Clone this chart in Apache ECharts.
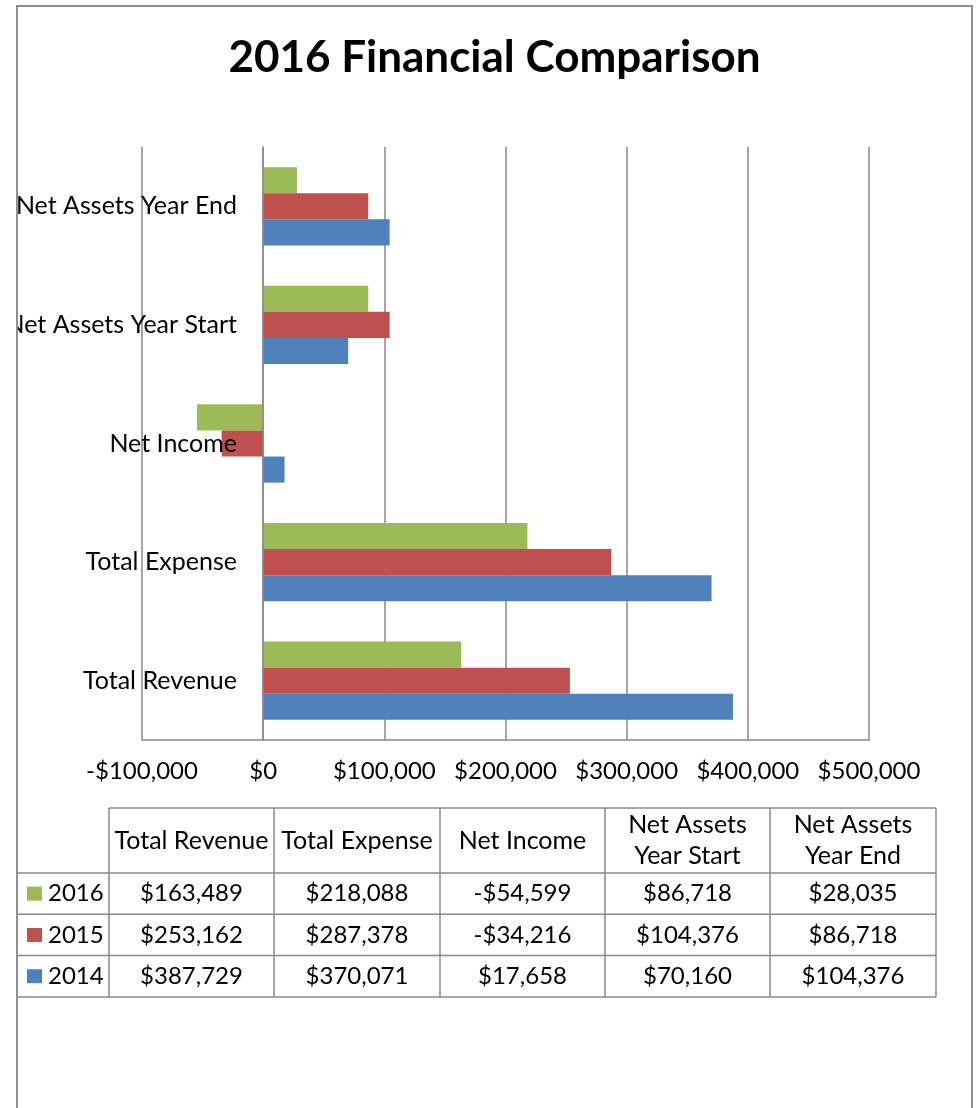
<!DOCTYPE html>
<html>
<head>
<meta charset="utf-8">
<script src="https://cdn.jsdelivr.net/npm/echarts@6/dist/echarts.min.js"></script>
<style>
html,body{margin:0;padding:0;background:#fff;}
#chart{width:976px;height:1108px;}
</style>
</head>
<body>
<div id="chart"></div>
<script>
// ---- data ----
var titleText = '2016 Financial Comparison';
var categories = ['Total Revenue', 'Total Expense', 'Net Income', 'Net Assets Year Start', 'Net Assets Year End'];
var tableHeaders = ['Total Revenue', 'Total Expense', 'Net Income', 'Net Assets\nYear Start', 'Net Assets\nYear End'];
var years = ['2014', '2015', '2016'];
var values2014 = [387729, 370071, 17658, 70160, 104376];
var values2015 = [253162, 287378, -34216, 104376, 86718];
var values2016 = [163489, 218088, -54599, 86718, 28035];
var colors = ['#4F81BD', '#C0504D', '#9BBB59'];
var axisMin = -100000, axisMax = 500000, axisStep = 100000;

// ---- helpers ----
var FONT = 'Lato';
var WORD = 25, NUM = 24;
var GRAY = '#898989';
function money(v) {
  var s = Math.abs(v).toString().replace(/\B(?=(\d{3})+(?!\d))/g, ',');
  return (v < 0 ? '-$' : '$') + s;
}

var seriesValues = [values2014, values2015, values2016];

// ---- table graphics ----
var colEdges = [109, 274, 440, 605, 770, 936];
var leftEdge = 17;
var headTop = 808, headBottom = 873, rowH = 41.3;
var g = [];
// white mask left of the border (text clipped at chart edge, as in reference)
g.push({type: 'rect', shape: {x: 0, y: 0, width: 17, height: 1108}, style: {fill: '#fff'}, z: 100, silent: true});
// outer border
g.push({type: 'rect', shape: {x: 17, y: 6, width: 955, height: 1200}, style: {fill: 'none', stroke: '#8f8f8f', lineWidth: 2}, z: 101, silent: true});
// title
g.push({type: 'text', x: 494.5, y: 58, style: {text: titleText, font: 'bold 44px ' + FONT, fill: '#000', textAlign: 'center', textVerticalAlign: 'middle'}});
// header top line
g.push({type: 'line', shape: {x1: colEdges[0], y1: headTop, x2: colEdges[colEdges.length - 1], y2: headTop}, style: {stroke: GRAY, lineWidth: 1.5}});
// row lines
for (var r = 0; r <= years.length; r++) {
  var yy = headBottom + r * rowH;
  g.push({type: 'line', shape: {x1: leftEdge, y1: yy, x2: colEdges[colEdges.length - 1], y2: yy}, style: {stroke: GRAY, lineWidth: 1.5}});
}
var tableBottom = headBottom + years.length * rowH;
// vertical lines
colEdges.forEach(function (x) {
  g.push({type: 'line', shape: {x1: x, y1: headTop, x2: x, y2: tableBottom}, style: {stroke: GRAY, lineWidth: 1.5}});
});
// header texts
tableHeaders.forEach(function (h, i) {
  g.push({type: 'text', x: (colEdges[i] + colEdges[i + 1]) / 2, y: (headTop + headBottom) / 2,
    style: {text: h, font: WORD + 'px ' + FONT, fill: '#000', textAlign: 'center', textVerticalAlign: 'middle', lineHeight: 31}});
});
// rows: 2016, 2015, 2014 top to bottom
for (var k = 0; k < years.length; k++) {
  var si = years.length - 1 - k;
  var cy = headBottom + k * rowH + rowH / 2;
  g.push({type: 'rect', shape: {x: 27, y: cy - 7, width: 15, height: 14}, style: {fill: colors[si]}});
  g.push({type: 'text', x: 48, y: cy, style: {text: years[si], font: NUM + 'px ' + FONT, fill: '#000', textAlign: 'left', textVerticalAlign: 'middle'}});
  seriesValues[si].forEach(function (v, c) {
    g.push({type: 'text', x: (colEdges[c] + colEdges[c + 1]) / 2, y: cy,
      style: {text: money(v), font: NUM + 'px ' + FONT, fill: '#000', textAlign: 'center', textVerticalAlign: 'middle'}});
  });
}

// series drawn top-to-bottom within a band: 2016, 2015, 2014
var order = [2, 1, 0];

var chart = echarts.init(document.getElementById('chart'), null, {renderer: 'canvas'});
chart.setOption({
  backgroundColor: '#fff',
  animation: false,
  textStyle: {fontFamily: FONT},
  grid: {left: 142, right: 107, top: 147, bottom: 368, containLabel: false, outerBoundsMode: 'none'},
  xAxis: {
    type: 'value', min: axisMin, max: axisMax, interval: axisStep,
    axisLine: {show: true, lineStyle: {color: GRAY, width: 1.5}},
    axisTick: {show: false},
    splitLine: {show: true, lineStyle: {color: GRAY, width: 1.5}},
    axisLabel: {fontSize: NUM, color: '#000', margin: 19, fontFamily: FONT, formatter: function (v) { return money(v); }}
  },
  yAxis: {
    type: 'category', data: categories, z: 5,
    axisLine: {show: true, onZero: true, lineStyle: {color: GRAY, width: 1.5}},
    axisTick: {show: false},
    axisLabel: {fontSize: WORD, color: '#000', margin: -95, fontFamily: FONT}
  },
  series: order.map(function (i) {
    return {
      name: years[i], type: 'bar', data: seriesValues[i],
      barGap: '0%', barCategoryGap: '34%',
      itemStyle: {color: colors[i]}
    };
  }),
  graphic: g
});
</script>
</body>
</html>
